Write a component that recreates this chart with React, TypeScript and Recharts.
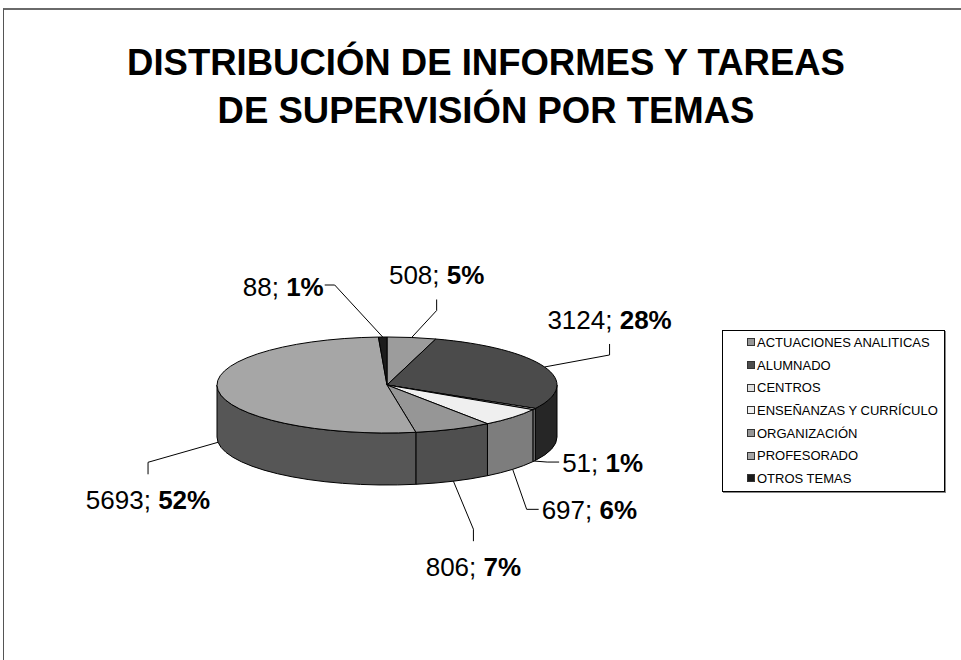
import React from 'react';
import { PieChart, Pie, Cell, Legend } from 'recharts';

const categories = [
  'ACTUACIONES ANALITICAS',
  'ALUMNADO',
  'CENTROS',
  'ENSEÑANZAS Y CURRÍCULO',
  'ORGANIZACIÓN',
  'PROFESORADO',
  'OTROS TEMAS',
];
const counts = [508, 3124, 51, 697, 806, 5693, 88];
const pctLabels = ['5%', '28%', '1%', '6%', '7%', '52%', '1%'];

const topColors = ['#9c9c9c', '#4b4b4b', '#dcdcdc', '#efefef', '#969696', '#a6a6a6', '#1c1c1c'];
const sideColors = ['#515151', '#262626', '#737373', '#7d7d7d', '#4f4f4f', '#565656', '#0e0e0e'];
const legendColors = ['#969696', '#4d4d4d', '#e0e0e0', '#f0f0f0', '#969696', '#a6a6a6', '#1a1a1a'];

// where each data label sits: side of the text the leader joins, and offset of that point from the slice edge
const labelPlace = [
  { side: 'bottom', dx: 25, dy: -38 },
  { side: 'bottom', dx: 65, dy: -23 },
  { side: 'left', dx: 25, dy: 1 },
  { side: 'left', dx: 26, dy: 40 },
  { side: 'top', dx: 20, dy: 60 },
  { side: 'top', dx: -70, dy: 32 },
  { side: 'right', dx: -58, dy: -52 },
];

const FONT = "'Liberation Sans', Arial, Helvetica, sans-serif";
const TILT = 0.2824; // vertical squash of the pie top
const DEPTH = 52; // thickness of the pie
const RAD = Math.PI / 180;

const data = categories.map((name, i) => ({ name, value: counts[i] }));

// draws one slice as a tilted 3D wedge plus its data label
const renderSlice = (props: any) => {
  const { cx, cy, outerRadius, startAngle, endAngle, midAngle, index, value } = props;
  const rx = outerRadius;
  const ry = outerRadius * TILT;
  const P = (a: number, dy = 0) => ({
    x: cx + rx * Math.cos(a * RAD),
    y: cy - ry * Math.sin(a * RAD) + dy,
  });

  const s = P(startAngle);
  const e = P(endAngle);
  const span = Math.abs(startAngle - endAngle);
  const sweep = startAngle > endAngle ? 1 : 0;
  const topPath = `M${cx},${cy}L${s.x},${s.y}A${rx},${ry} 0 ${span > 180 ? 1 : 0} ${sweep} ${e.x},${e.y}Z`;

  // front wall: only the part facing the viewer
  const hi = Math.min(Math.max(startAngle, endAngle), 0);
  const lo = Math.max(Math.min(startAngle, endAngle), -180);
  let wallPath = '';
  if (lo < hi) {
    const h1 = P(hi);
    const l1 = P(lo);
    const l2 = P(lo, DEPTH);
    const h2 = P(hi, DEPTH);
    wallPath = `M${h1.x},${h1.y}A${rx},${ry} 0 0 1 ${l1.x},${l1.y}L${l2.x},${l2.y}A${rx},${ry} 0 0 0 ${h2.x},${h2.y}Z`;
  }

  const front = Math.sin(midAngle * RAD) < 0;
  const anchor = P(midAngle, front ? DEPTH : 0);
  const place = labelPlace[index];
  const ax = anchor.x + place.dx;
  const ay = anchor.y + place.dy;

  let knee = { x: ax, y: ay };
  let tx = ax;
  let ty = ay;
  let textAnchor: any = 'middle';
  if (place.side === 'bottom') {
    knee = { x: ax, y: ay + 11 };
    ty = ay - 24 + 9;
  } else if (place.side === 'top') {
    knee = { x: ax, y: ay - 12 };
    ty = ay + 26 + 9;
  } else if (place.side === 'left') {
    knee = { x: ax - 12, y: ay };
    tx = ax + 3;
    ty = ay + 1 + 9;
    textAnchor = 'start';
  } else {
    knee = { x: ax + 10, y: ay };
    tx = ax - 1;
    ty = ay + 2 + 9;
    textAnchor = 'end';
  }

  return (
    <g>
      {wallPath && <path d={wallPath} fill={sideColors[index]} stroke="#000" strokeWidth={1} strokeLinejoin="round" />}
      <path d={topPath} fill={topColors[index]} stroke="#000" strokeWidth={1} strokeLinejoin="round" />
      <polyline
        points={`${anchor.x},${anchor.y} ${knee.x},${knee.y} ${ax},${ay}`}
        fill="none"
        stroke="#000"
        strokeWidth={1}
      />
      <text x={tx} y={ty} textAnchor={textAnchor} fontSize={26} fontFamily={FONT} fill="#000">
        <tspan>{`${value}; `}</tspan>
        <tspan fontWeight="bold">{pctLabels[index]}</tspan>
      </text>
    </g>
  );
};

const renderLegend = ({ payload }: any) => {
  // keep the legend in data order (the library sorts by name otherwise)
  const items = [...(payload || [])].sort(
    (a: any, b: any) => categories.indexOf(a.value) - categories.indexOf(b.value)
  );
  return (
    <div
      style={{
        width: 223,
        height: 162,
        boxSizing: 'border-box',
        border: '1px solid #000',
        boxShadow: '1px 1px 0 #888',
        background: '#fff',
        fontFamily: FONT,
        fontSize: 13,
        color: '#000',
      }}
    >
      {items.map((entry: any) => {
        const i = categories.indexOf(entry.value);
        return (
          <div key={entry.value} style={{ display: 'flex', alignItems: 'center', height: 22.7, paddingLeft: 24 }}>
            <span
              style={{
                display: 'inline-block',
                boxSizing: 'border-box',
                width: 8,
                height: 8,
                background: legendColors[i] || entry.color,
                border: '1px solid #333',
                marginRight: 2,
              }}
            />
            <span style={{ whiteSpace: 'nowrap' }}>{entry.value}</span>
          </div>
        );
      })}
    </div>
  );
};

export default function App() {
  return (
    <div style={{ position: 'absolute', left: 0, top: 0, width: 961, height: 660, overflow: 'hidden', background: '#fff' }}>
      <div
        style={{
          position: 'absolute',
          left: 3,
          top: 8,
          width: 1000,
          height: 1000,
          borderLeft: '1px solid #555',
          borderTop: '2px solid #6a6a6a',
        }}
      />
      <PieChart width={961} height={660} margin={{ top: 0, right: 0, bottom: 0, left: 0 }}>
        <Pie
          data={data}
          dataKey="value"
          nameKey="name"
          cx={387}
          cy={385}
          outerRadius={170}
          innerRadius={0}
          startAngle={90}
          endAngle={-270}
          label={renderSlice}
          labelLine={false}
          isAnimationActive={false}
        >
          {data.map((d, i) => (
            <Cell key={d.name} fill={legendColors[i]} fillOpacity={0} stroke="none" />
          ))}
        </Pie>
        <Legend
          layout="vertical"
          align="right"
          verticalAlign="middle"
          content={renderLegend}
          wrapperStyle={{ left: 722, top: 330, right: 'auto', bottom: 'auto', width: 'auto' }}
        />
      </PieChart>
      <div
        style={{
          position: 'absolute',
          left: 11,
          top: 39,
          width: 950,
          textAlign: 'center',
          fontFamily: FONT,
          fontWeight: 'bold',
          fontSize: 36.5,
          lineHeight: '48px',
          color: '#000',
        }}
      >
        DISTRIBUCIÓN DE INFORMES Y TAREAS
        <br />
        DE SUPERVISIÓN POR TEMAS
      </div>
    </div>
  );
}
